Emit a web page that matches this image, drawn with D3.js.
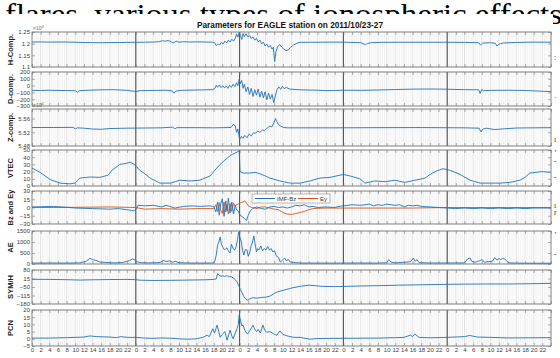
<!DOCTYPE html>
<html>
<head>
<meta charset="utf-8">
<script src="https://cdn.jsdelivr.net/npm/d3@7"></script>
<style>
  body { margin: 0; background: #fff; }
  svg { display: block; }
</style>
</head>
<body>
<svg id="chart" width="560" height="358"></svg>
<script>
// series are [hour since 2011/10/23 00 UT, value]
const hComp = [[0,12070],[2,12075],[4,12068],[6,12072],[8,12070],[10,12062],[12,12050],[14,12045],[16,12040],[18,12046],[20,12050],[22,12055],[24,12058],[26,12062],[28,12068],[29.5,12090],[30.2,12130],[30.8,12100],[31.5,12140],[32.2,12080],[32.8,12030],[33.3,12110],[34,12060],[35,12085],[36.5,12070],[38,12078],[40,12072],[41.5,12065],[42.2,12050],[42.6,11920],[43,11990],[43.4,11950],[43.8,12060],[44.2,11990],[44.6,12110],[45,12030],[45.4,12150],[45.8,12070],[46.2,12190],[46.6,12110],[47,12230],[47.3,12420],[47.6,12280],[47.9,12480],[48.2,12340],[48.5,12180],[48.8,12440],[49.1,12300],[49.5,12430],[49.9,12290],[50.3,12350],[50.7,12220],[51.1,12290],[51.5,12150],[51.9,12230],[52.3,12080],[52.7,12150],[53.1,11990],[53.5,12070],[53.9,11900],[54.3,11980],[54.7,11850],[55.1,11920],[55.5,11770],[55.8,11850],[56.1,11230],[56.4,11650],[56.8,11880],[57.3,11960],[57.8,11840],[58.3,11760],[58.8,11700],[59.3,11740],[59.8,11840],[60.5,11950],[61.3,12020],[62,12055],[64,12060],[67,12062],[70,12066],[73,12060],[76,12045],[77.1,11960],[77.6,12010],[78.5,12045],[81,12058],[85,12062],[90,12060],[95,12062],[100,12055],[103.3,12040],[103.7,11940],[104.2,12025],[106,12040],[107.1,12020],[107.5,11900],[108,11980],[109,12030],[112,12052],[116,12065],[120,12062]];

const dComp = [[0,-70],[2,-72],[4,-68],[6,-71],[8,-73],[10,-75],[10.5,-98],[11,-74],[13,-68],[16,-62],[19,-60],[22,-70],[23.5,-82],[24,-88],[25,-74],[27,-72],[29,-70],[31,-68],[32.4,-78],[32.8,-112],[33.3,-80],[34.5,-70],[37,-66],[40,-62],[41.8,-60],[42.3,-40],[42.6,5],[42.9,-25],[43.3,10],[43.7,-30],[44.1,0],[44.5,-35],[44.9,-5],[45.3,-40],[45.7,5],[46.1,-25],[46.5,20],[46.9,-15],[47.3,40],[47.6,0],[47.9,95],[48.2,30],[48.5,75],[48.8,-40],[49.1,20],[49.5,-90],[49.9,-20],[50.3,-130],[50.7,-40],[51.1,-160],[51.5,-60],[51.9,-140],[52.3,-50],[52.7,-170],[53.1,-80],[53.5,-180],[53.9,-90],[54.3,-210],[54.7,-110],[55.1,-200],[55.5,-130],[55.9,-250],[56.3,-140],[56.7,-50],[57.1,-20],[57.5,-55],[57.9,-10],[58.3,-45],[58.8,-25],[59.5,-50],[62,-62],[66,-68],[68,-74],[70,-72],[72,-68],[76,-70],[80,-65],[84,-58],[88,-52],[92,-50],[95,-52],[100,-60],[103.3,-62],[103.6,-115],[104,-55],[104.4,-75],[106,-70],[110,-68],[114,-72],[117,-80],[120,-88]];

const zComp = [[0,55340],[5,55340],[9.5,55345],[10,55300],[10.5,55330],[12,55320],[14,55295],[16,55288],[18,55310],[22,55320],[26,55325],[30,55330],[32.5,55350],[33,55305],[33.5,55335],[38,55335],[42,55330],[44,55335],[46,55340],[46.6,55440],[47,55380],[47.3,55200],[47.6,55300],[48,54990],[48.4,55080],[48.8,55020],[49.2,55110],[49.7,55040],[50.2,55150],[50.7,55090],[51.2,55190],[51.6,55170],[52.2,55230],[52.7,55200],[53.3,55270],[53.8,55250],[54.4,55330],[55,55380],[55.5,55360],[56,55500],[56.3,55600],[56.6,55520],[57,55420],[57.5,55380],[58.2,55340],[59,55330],[62,55330],[70,55330],[80,55335],[90,55338],[100,55330],[103.4,55320],[103.8,55210],[104.2,55290],[105,55320],[107,55280],[109,55300],[112,55325],[120,55335]];

const vtec = [[0,25],[1.85,19],[4.2,9],[6.5,4],[8.8,3],[9.9,4],[11.1,11],[13.4,12.5],[15.7,12],[17.6,15],[18.5,22],[19.2,25],[20.3,30],[21.5,31],[22.7,33],[23.4,31],[24,28],[24.9,22],[26.1,17],[27.3,11],[29.6,4],[31.9,4],[33.1,6],[34.2,8],[36.5,7],[38.8,8],[41.2,14],[42.3,22],[43.5,30],[44.6,36],[46,43],[47.4,47],[47.9,49],[48.1,20],[48.8,18],[50.4,18],[51.6,19],[52.7,17],[53.9,14],[55,11],[57.3,7],[59.7,4],[62,4],[64.3,7],[66.6,11],[68.9,12],[71.2,15],[72,16],[73.5,14],[75.8,10],[77,4],[79.3,7],[81.6,6],[83.9,8],[86.2,5],[88.6,8],[90.9,11],[92,16],[93.6,21],[95,24],[96.5,22],[97.8,19],[99,16],[101.3,8],[103.6,4],[105.9,4],[108.2,4],[110.5,5],[112.8,8],[114,12],[115.1,18],[116.5,19],[118,20],[119.8,19]];

const imfBz = [[0,1],[5,2],[8,0.5],[10,-1],[14,-2],[18,-3],[20,-2],[22,-4],[23.5,-6],[24,-4],[24.5,4],[26,3],[28,4],[30,1],[31,4],[33,-1],[35,2],[37,3],[39,2],[41,3],[42,2],[42.5,-8],[42.9,10],[43.3,-14],[43.6,6],[44,16],[44.4,-16],[44.8,12],[45.1,-6],[45.4,17],[45.8,-10],[46.2,10],[46.6,-12],[47,4],[47.3,-4],[47.6,-6],[48,-12],[48.4,-16],[48.8,-18],[49.2,-20],[49.6,-24],[50,-14],[50.5,-6],[51,-2],[52,1],[53,-2],[54,-3],[55,1],[56,2],[57,0],[58,1],[59,-1],[60,1],[61,4],[62,3],[63,5],[64,1],[65,2],[66,0],[68,1],[70,0],[71,2],[72,3],[74,5],[76,4],[78,6],[79,3],[80,5],[81,4],[82,6],[84,4],[85,5],[86,1],[87,4],[88,3],[89,4],[90,2],[92,1],[94,0],[96,-1],[98,-2],[100,-1],[102,-2],[104,-1],[106,-2],[108,-1],[110,-2],[112,-1],[114,-2],[116,-1],[118,-1],[120,-1]];

const ey = [[0,0],[6,0],[12,0.5],[18,1],[24,0],[26,-3],[30,-2],[34,-3],[38,-2],[42,-2],[42.5,5],[42.9,-7],[43.3,9],[43.6,-4],[44,-11],[44.4,10],[44.8,-8],[45.1,4],[45.4,-12],[45.8,7],[46.2,-7],[46.6,8],[47,2],[47.3,5],[47.6,6],[48,8],[48.4,9],[48.8,10],[49.2,12],[49.6,8],[50,3],[50.5,1],[51,0],[52,-2],[53,1],[54,1],[55,-1],[56,-3],[57,-4],[58,-9],[59,-12],[60,-12.5],[61,-11],[62,-9],[63,-7],[64,-4],[65,-2],[66,-1.5],[68,-1],[72,-1],[80,-1],[88,-1],[92,-0.5],[96,0],[105,0],[110,0],[120,0]];

const ae = [[0,40],[4,45],[8,40],[11,50],[12.5,120],[13.4,260],[14,200],[15,150],[15.7,90],[17,70],[19,50],[21,70],[22.5,150],[23.2,230],[23.8,180],[24.3,110],[25,60],[27,50],[29,60],[29.6,70],[30.3,160],[31,120],[31.9,140],[32.5,80],[33.1,120],[34,60],[36,45],[40,40],[42,45],[42.3,150],[42.6,400],[42.9,860],[43.2,1000],[43.5,1230],[43.8,900],[44.1,770],[44.5,640],[44.8,700],[45.1,730],[45.4,600],[45.8,500],[46.1,900],[46.5,700],[46.9,640],[47.2,800],[47.5,1100],[47.8,1450],[48.1,1200],[48.4,1000],[48.7,600],[49,410],[49.3,650],[49.7,640],[50,350],[50.3,500],[50.7,850],[51,1000],[51.3,1270],[51.6,900],[51.9,550],[52.2,700],[52.5,640],[52.9,820],[53.3,600],[53.7,700],[54.1,640],[54.5,800],[54.9,640],[55.3,700],[55.7,545],[56.1,600],[56.5,360],[57,300],[57.4,90],[58,200],[58.4,270],[58.8,150],[59.3,200],[59.7,90],[60.5,70],[62,45],[66,40],[70,40],[75,45],[80,40],[82,60],[82.5,200],[83,90],[84,50],[87.5,100],[88.2,270],[88.6,120],[89,200],[89.5,60],[92,45],[100,50],[100.8,250],[101.3,270],[101.7,120],[102.5,80],[103.5,150],[104.1,200],[104.6,80],[106.5,130],[107,290],[107.5,180],[108,250],[108.4,200],[108.8,260],[109.3,230],[109.8,120],[110.3,50],[112,40],[116,35],[120,35]];

const symH = [[0,9],[4,8],[8,6],[11,3],[14,5],[18,7],[22,8],[24,6],[25,2],[28,0],[32,1],[36,3],[40,5],[42,8],[42.6,12],[42.9,52],[43.3,40],[43.7,32],[44.1,36],[44.5,30],[45,38],[45.5,28],[46,30],[46.5,20],[47,5],[47.4,-10],[47.8,-40],[48.2,-70],[48.6,-95],[49,-125],[49.5,-145],[49.9,-152],[50.4,-140],[51,-132],[52,-135],[53,-130],[54,-128],[55,-120],[56,-100],[56.5,-90],[57.3,-82],[58.5,-72],[60,-58],[62,-45],[64,-36],[65.5,-40],[67,-45],[70,-47],[73,-45],[76,-42],[80,-40],[85,-36],[90,-33],[95,-30],[100,-28],[105,-27],[110,-27],[115,-25],[120,-22]];

const pcn = [[0,0.5],[4,0.5],[8,0.8],[12,1.2],[13.4,2],[15,1.5],[18,1.2],[19.5,0.8],[20.5,1.5],[22,1],[24,1],[26,0.5],[28,0.3],[30,0.6],[32,0.4],[34,0],[36,-0.3],[38,0],[39.5,1],[40.5,2.5],[41,1.5],[41.8,7],[42.2,4],[42.8,9.5],[43.2,5],[43.5,1],[44,3],[44.6,5],[45.1,-1],[45.5,3],[45.8,6],[46.2,2],[46.5,0],[47,4],[47.4,7],[47.7,10],[47.9,16.5],[48.2,13],[48.5,9],[48.8,9.5],[49.2,6],[49.6,4],[49.9,3.5],[50.4,6],[50.8,8],[51.1,9.5],[51.6,6],[52,5],[52.3,6.5],[52.8,4],[53.1,7],[53.4,9.5],[53.8,6],[54.3,4.5],[55,5],[55.6,4],[56.1,3],[56.6,2.5],[57.3,5.5],[58,3],[59,2],[60.5,1],[62,1],[64.3,-0.3],[66,0.2],[70,0.3],[75,0.4],[80,0.5],[84,0.8],[86,1],[87.5,2.5],[88,1.5],[88.5,3.3],[89.5,1],[92,0.7],[96,1],[100,1.5],[101.2,2.3],[103,1.2],[106,1],[110,0.6],[115,0.7],[120,0.8]];

// tick values per panel
const hTicks = [11000, 11500, 12000, 12500];
const dTicks = [200, 100, 0, -100, -200, -300];
const zTicks = [54800, 55200, 55600];
const vtecTicks = [0, 10, 20, 30, 40, 50];
const bzTicks = [30, 15, 0, -15, -30];
const aeTicks = [0, 500, 1000, 1500];
const symTicks = [80, 15, -50, -115, -180];
const pcnTicks = [20, 15, 10, 5, 0, -5];
const hourTicks = d3.range(0, 121, 2);
const dayEdges = [24, 48, 72, 96];

const titleText = "Parameters for EAGLE station on 2011/10/23-27";
const legendNames = ["IMF-Bz", "Ey"];

const blue = "#1f72b8", orange = "#d95319";
const left = 32, right = 551;
const sans = "Liberation Sans, Arial, sans-serif";

const svg = d3.select("#chart");

// body text of the page behind the figure
svg.append("text")
  .attr("x", 5).attr("y", 24)
  .attr("textLength", 557).attr("lengthAdjust", "spacingAndGlyphs")
  .style("font-family", "Liberation Serif, serif")
  .style("font-size", "30px")
  .text("flares, various types of ionospheric effects");

svg.append("rect").attr("x", 0).attr("y", 14).attr("width", 553).attr("height", 344).attr("fill", "#fff");

// text fragments peeking past right edge
const frags = [[":", 60], ["·", 100], ["ı", 142], ["ʼ", 156], ["-", 164], ["-", 180], ["ı", 208], ["r", 215], ["ʼ", 238], ["-", 257]];
svg.selectAll("text.frag").data(frags).enter().append("text")
  .attr("class", "frag")
  .attr("x", 554).attr("y", d => d[1])
  .style("font-family", "Liberation Serif, serif").style("font-size", "8px").style("fill", "#333")
  .text(d => d[0]);

const x = d3.scaleLinear().domain([0, 120]).range([left, right]);

const panels = [
  { label: "H-Comp.", top: 32, bottom: 67, domain: [11000, 12500], ticks: hTicks, fmt: v => +(v / 1e4).toFixed(2), series: [[hComp, blue]], exp: true },
  { label: "D-comp.", top: 72, bottom: 106, domain: [-300, 200], ticks: dTicks, fmt: d3.format("d"), series: [[dComp, blue]] },
  { label: "Z-comp.", top: 109, bottom: 146, domain: [54800, 55880], ticks: zTicks, fmt: v => +(v / 1e4).toFixed(2), series: [[zComp, blue]], exp: true },
  { label: "VTEC", top: 150, bottom: 186, domain: [0, 50], ticks: vtecTicks, fmt: d3.format("d"), series: [[vtec, blue]] },
  { label: "Bz and Ey", top: 191, bottom: 224, domain: [-30, 30], ticks: bzTicks, fmt: d3.format("d"), series: [[ey, orange], [imfBz, blue]], legend: true },
  { label: "AE", top: 231, bottom: 264, domain: [0, 1500], ticks: aeTicks, fmt: d3.format("d"), series: [[ae, blue]] },
  { label: "SYM/H", top: 270, bottom: 304, domain: [-180, 80], ticks: symTicks, fmt: d3.format("d"), series: [[symH, blue]] },
  { label: "PCN", top: 310, bottom: 346, domain: [-5, 20], ticks: pcnTicks, fmt: d3.format("d"), series: [[pcn, blue]], xlabels: true }
];

panels.forEach((p, i) => {
  const y = d3.scaleLinear().domain(p.domain).range([p.bottom, p.top]);
  const g = svg.append("g");
  const clipId = "clip" + i;
  svg.append("clipPath").attr("id", clipId).append("rect")
    .attr("x", left).attr("y", p.top).attr("width", right - left).attr("height", p.bottom - p.top);

  // dense vertical grid
  g.selectAll("line.minor").data(d3.range(0.5, 120, 0.5)).enter().append("line")
    .attr("x1", d => x(d)).attr("x2", d => x(d))
    .attr("y1", p.top).attr("y2", p.bottom)
    .attr("stroke", d => d % 2 === 0 ? "#cfcfcf" : "#e8e8e8").attr("stroke-width", 0.6);

  // day separators
  g.selectAll("line.day").data(dayEdges).enter().append("line")
    .attr("x1", d => x(d)).attr("x2", d => x(d))
    .attr("y1", p.top).attr("y2", p.bottom)
    .attr("stroke", "#505050").attr("stroke-width", 1.1);

  const line = d3.line().x(d => x(d[0])).y(d => y(d[1]));
  p.series.forEach(([data, color]) => {
    g.append("path").datum(data)
      .attr("clip-path", `url(#${clipId})`)
      .attr("d", line)
      .attr("fill", "none").attr("stroke", color).attr("stroke-width", 0.9)
      .attr("stroke-linejoin", "round");
  });

  // box
  g.append("rect").attr("x", left).attr("y", p.top).attr("width", right - left).attr("height", p.bottom - p.top)
    .attr("fill", "none").attr("stroke", "#5f5f5f").attr("stroke-width", 0.8);

  // axes with inward ticks
  g.append("g").attr("transform", `translate(${left},0)`)
    .call(d3.axisLeft(y).tickValues(p.ticks).tickSize(-3).tickPadding(2).tickFormat(p.fmt));
  g.append("g").attr("transform", `translate(${right},0)`)
    .call(d3.axisRight(y).tickValues(p.ticks).tickSize(-3).tickFormat(""));
  g.append("g").attr("transform", `translate(0,${p.top})`)
    .call(d3.axisTop(x).tickValues(hourTicks).tickSize(-3).tickFormat(""));
  g.append("g").attr("transform", `translate(0,${p.bottom})`)
    .call(d3.axisBottom(x).tickValues(hourTicks).tickSize(-3).tickPadding(1.5)
      .tickFormat(d => (p.xlabels && d < 120) ? d % 24 : ""));

  g.selectAll(".domain").remove();
  g.selectAll(".tick line").attr("stroke", "#777").attr("stroke-width", 0.6);
  g.selectAll(".tick text")
    .style("font-family", sans)
    .style("font-size", "6px").attr("fill", "#3a3a3a");

  if (p.exp) {
    g.append("text").attr("x", left + 1).attr("y", p.top - 2)
      .style("font-family", sans).style("font-size", "5px").attr("fill", "#666")
      .text("\u00d710").append("tspan").attr("dy", -2).style("font-size", "4px").text("4");
  }

  g.append("text")
    .attr("transform", `translate(13,${(p.top + p.bottom) / 2}) rotate(-90)`)
    .attr("text-anchor", "middle")
    .style("font-family", sans)
    .style("font-size", "7.5px").style("font-weight", "bold").attr("fill", "#222")
    .text(p.label);

  if (p.legend) {
    const lg = g.append("g").attr("transform", "translate(252,194)");
    lg.append("rect").attr("width", 78).attr("height", 9).attr("fill", "#fff").attr("stroke", "#888").attr("stroke-width", 0.6);
    const items = [[legendNames[0], blue, 3], [legendNames[1], orange, 46]];
    items.forEach(([name, color, ox]) => {
      lg.append("line").attr("x1", ox).attr("x2", ox + 20).attr("y1", 4.5).attr("y2", 4.5)
        .attr("stroke", color).attr("stroke-width", 1);
      lg.append("text").attr("x", ox + 22).attr("y", 6.8)
        .style("font-family", sans).style("font-size", "6px").attr("fill", "#333")
        .text(name);
    });
  }
});

// title
svg.append("text").attr("x", 197).attr("y", 28)
  .attr("textLength", 186).attr("lengthAdjust", "spacingAndGlyphs")
  .style("font-family", sans)
  .style("font-size", "8.5px").style("font-weight", "bold").attr("fill", "#111")
  .text(titleText);

// x axis label, cut by the page edge
svg.append("text").attr("x", 292).attr("y", 363).attr("text-anchor", "middle")
  .style("font-family", sans).style("font-size", "7px").attr("fill", "#333")
  .text("UT (hours)");
</script>
</body>
</html>
